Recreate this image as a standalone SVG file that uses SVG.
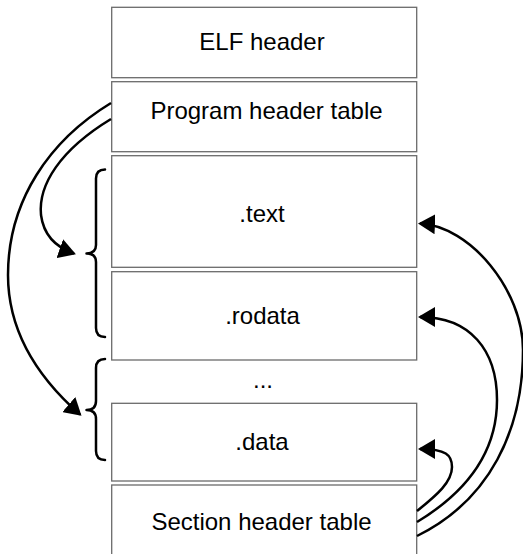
<svg xmlns="http://www.w3.org/2000/svg" width="523" height="554" viewBox="0 0 523 554">
<style>
.box{fill:#fff;stroke:#6b6b6b;stroke-width:1.3}
.lbl{font-family:"Liberation Sans",Arial,sans-serif;font-size:24px;fill:#000;text-anchor:middle}
.brace{fill:none;stroke:#000;stroke-width:2.5;stroke-linecap:round;stroke-linejoin:round}
.conn{fill:none;stroke:#000;stroke-width:2.5;marker-end:url(#ah)}
</style>
<defs>
<marker id="ah" viewBox="0 0 17 20" refX="15" refY="10" markerWidth="17" markerHeight="20" markerUnits="userSpaceOnUse" orient="auto">
<path d="M0,0 L17,10 L0,20 Z" fill="#000"/>
</marker>
</defs>
<rect width="523" height="554" fill="#fff"/>
<g id="elf-header"><rect class="box" x="111.7" y="7.3" width="305" height="70.4"/><text class="lbl" x="262" y="50">ELF header</text></g>
<g id="program-header-table"><rect class="box" x="111.7" y="81.7" width="305" height="70"/><text class="lbl" x="266.5" y="119">Program header table</text></g>
<g id="text"><rect class="box" x="111.7" y="155.7" width="305" height="111.6"/><text class="lbl" x="262" y="221.7">.text</text></g>
<g id="rodata"><rect class="box" x="111.7" y="271.7" width="305" height="88.3"/><text class="lbl" x="262.5" y="323.5">.rodata</text></g>
<g id="ellipsis"><text class="lbl" x="263" y="387.7">...</text></g>
<g id="data"><rect class="box" x="111.7" y="403.3" width="305" height="77.7"/><text class="lbl" x="262" y="450">.data</text></g>
<g id="section-header-table"><rect class="box" x="111.7" y="485" width="305" height="80"/><text class="lbl" x="261.5" y="530">Section header table</text></g>
<g id="braces">
<path class="brace" d="M105,169.5 Q96,169.5 96,178.5 L96,245 Q96,253.5 86.5,253.5 Q96,253.5 96,262 L96,328 Q96,337 105,337"/>
<path class="brace" d="M105,359 Q96,359 96,368 L96,401 Q96,410 86.5,410 Q96,410 96,419 L96,451 Q96,460 105,460"/>
</g>
<g id="connectors">
<path class="conn" d="M111,119 C60,150 38,185 41,215 C44,238 58,248 74,253.5"/>
<path class="conn" d="M111,103 C50,140 8,200 8,275 C8,330 35,375 80,414.5"/>
<path class="conn" d="M417,511 C437,495 452,482 452,467 C452,455 446,449 420,449"/>
<path class="conn" d="M417,522 C470,490 497,450 497,400 C497,350 470,317 420,317"/>
<path class="conn" d="M417,536 C490,500 523,430 523,350 C523,290 470,226 420,223.5"/>
</g>
</svg>
